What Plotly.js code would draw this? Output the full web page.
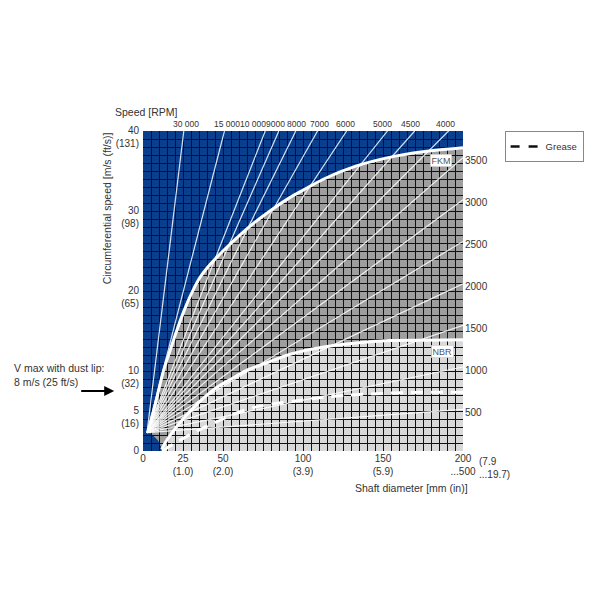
<!DOCTYPE html>
<html>
<head>
<meta charset="utf-8">
<script src="https://cdn.plot.ly/plotly-3.0.1.min.js"></script>
<style>html,body{margin:0;padding:0;background:#fff;}#chart{width:600px;height:600px;}</style>
</head>
<body>
<div id="chart"></div>
<script>
// ---- data ----
const xTickVals = [0, 25, 50, 100, 150, 200];
const xTickText = ['0', '25<br>(1.0)', '50<br>(2.0)', '100<br>(3.9)', '150<br>(5.9)', '200<br>...500'];
const yTickVals = [0, 5, 10, 20, 30, 40];
const yTickText = ['0<br>&nbsp;', '5<br>(16)', '10<br>(32)', '20<br>(65)', '30<br>(98)', '40<br>(131)'];

// speed lines meet near the origin
const hubD = 2.5;
const hubV = 2.3;
// speeds whose lines leave through the top edge (v = 40)
const topRpm = ['30 000', '15 000', '10 000', '9000', '8000', '7000', '6000', '5000', '4500', '4000'];
const topCrossD = [25.5, 50.9, 76.4, 84.9, 95.5, 109.1, 127.3, 152.8, 169.8, 191.0];
// speeds whose lines leave through the right edge (d = 200)
const rightRpm = ['3500', '3000', '2500', '2000', '1500', '1000', '500'];
const rightCrossV = [36.65, 31.4, 26.2, 20.9, 15.7, 10.5, 5.2];

// FKM limit curve
const fkmD = [3, 7.5, 12.5, 17, 21, 25, 29.4, 35, 41.9, 50, 60, 70, 80, 92, 100, 113, 133, 154, 175, 200];
const fkmV = [2.3, 5.7, 9.8, 12.6, 15.0, 17.2, 19.3, 21.5, 23.3, 25.0, 26.9, 28.6, 30.1, 31.7, 32.6, 34.0, 35.6, 36.7, 37.4, 37.9];
// NBR limit curve
const nbrD = [11.7, 15, 25, 35, 45, 56, 65, 77, 92, 113, 133, 154, 175, 200];
const nbrV = [0.2, 1.4, 4.0, 6.1, 7.8, 9.1, 10.1, 11.0, 12.1, 13.0, 13.5, 13.8, 13.85, 13.9];
// Grease (dashed)
const greaseD = [12, 20, 30, 40, 50, 62, 75, 93, 115, 135, 165, 200];
const greaseV = [0, 1.0, 2.1, 3.1, 4.0, 5.0, 5.7, 6.2, 6.75, 7.05, 7.3, 7.35];
// small blue pocket at the origin (boundary of the grey zones)
const pocketD = [12.5, 9.4, 5, 3];
const pocketV = [0, 1.3, 2.2, 2.3];

const xMax = 200, yMax = 40;

// ---- styles ----
const BLUE = '#0a3f8e';
const DARKGREY = '#9e9e9e';
const LIGHTGREY = '#d9d9d9';
const FONT = 'Liberation Sans, Arial, sans-serif';
const TXT = '#333';
const topLabelShift = [2, 2.5, -12, -3, 1, 1.5, -1, -5, -4, -3.5];

function pathFrom(ds, vs) {
  return ds.map((d, i) => (i === 0 ? 'M' : 'L') + d + ',' + vs[i]).join(' ') + ' Z';
}

// dark grey zone: under FKM curve
const dgD = fkmD.concat([xMax, xMax]).concat(pocketD);
const dgV = fkmV.concat([fkmV[fkmV.length - 1], 0]).concat(pocketV);
// light grey zone: under NBR curve
const lgD = nbrD.concat([xMax, xMax, nbrD[0]]);
const lgV = nbrV.concat([nbrV[nbrV.length - 1], 0, 0]);

// speed lines
const slX = [], slY = [];
topCrossD.forEach(d => { slX.push(hubD, d, null); slY.push(hubV, yMax, null); });
rightCrossV.forEach(v => { slX.push(hubD, xMax, null); slY.push(hubV, v, null); });

const traces = [
  {x: slX, y: slY, mode: 'lines', line: {color: 'rgba(255,255,255,0.85)', width: 1.2}, showlegend: false, hoverinfo: 'skip'},
  {x: fkmD, y: fkmV, mode: 'lines', line: {color: '#fff', width: 3, shape: 'spline', smoothing: 0.8}, showlegend: false},
  {x: nbrD, y: nbrV, mode: 'lines', line: {color: '#fff', width: 3, shape: 'spline', smoothing: 0.8}, showlegend: false},
  {x: greaseD, y: greaseV, mode: 'lines', line: {color: '#fff', width: 3, dash: '12px,8px', shape: 'spline'}, showlegend: false},
  {x: [null], y: [null], mode: 'lines', name: 'Grease', line: {color: '#111', width: 2.5, dash: 'dash'}, showlegend: true}
];

const annotations = [];
topRpm.forEach((t, i) => annotations.push({
  x: topCrossD[i], y: yMax, xref: 'x', yref: 'y', text: t, showarrow: false,
  yanchor: 'bottom', xanchor: 'center', xshift: topLabelShift[i], yshift: 0,
  font: {family: FONT, size: 8.5, color: TXT}
}));
rightRpm.forEach((t, i) => annotations.push({
  x: xMax, y: rightCrossV[i], xref: 'x', yref: 'y', text: t, showarrow: false,
  xanchor: 'left', yanchor: 'middle', xshift: 0, yshift: -3,
  font: {family: FONT, size: 10, color: TXT}
}));
annotations.push(
  {x: 186, y: 36.3, xref: 'x', yref: 'y', text: 'FKM', showarrow: false, bgcolor: '#fff',
   xanchor: 'center', yanchor: 'middle',
   bordercolor: '#bbb', borderwidth: 0.5, borderpad: 1, font: {family: FONT, size: 9, color: '#555'}},
  {x: 187, y: 12.4, xref: 'x', yref: 'y', text: 'NBR', showarrow: false, bgcolor: '#fff',
   xanchor: 'center', yanchor: 'middle',
   bordercolor: '#bbb', borderwidth: 0.5, borderpad: 1, font: {family: FONT, size: 9, color: '#555'}},
  {x: 1.0, y: 0, xref: 'paper', yref: 'paper', text: '(7.9<br>...19.7)', showarrow: false,
   xanchor: 'left', yanchor: 'top', align: 'left', xshift: 14, yshift: -3, font: {family: FONT, size: 10, color: TXT}},
  {x: 0.8375, y: -0.116, xref: 'paper', yref: 'paper', text: 'Shaft diameter [mm (in)]', showarrow: false,
   xanchor: 'center', yanchor: 'middle', font: {family: FONT, size: 10.5, color: TXT}},
  {x: 0.01, y: 1.059, xref: 'paper', yref: 'paper', text: 'Speed [RPM]', showarrow: false,
   xanchor: 'center', yanchor: 'middle', font: {family: FONT, size: 10.5, color: TXT}},
  {x: -0.112, y: 0.759, xref: 'paper', yref: 'paper', text: 'Circumferential speed [m/s (ft/s)]', showarrow: false,
   xanchor: 'center', yanchor: 'middle', textangle: -90, font: {family: FONT, size: 10.5, color: TXT}},
  {x: -0.41, y: 0.2375, xref: 'paper', yref: 'paper', text: 'V max with dust lip:<br>8 m/s (25 ft/s)', showarrow: false,
   xanchor: 'left', yanchor: 'middle', align: 'left', font: {family: FONT, size: 10.5, color: TXT}},
  {x: -0.09, y: 0.1875, xref: 'paper', yref: 'paper', text: ' ', showarrow: true, ax: -36, ay: 0,
   arrowhead: 2, arrowsize: 1, arrowwidth: 2, arrowcolor: '#000'}
);

const shapes = [
  {type: 'path', xref: 'x', yref: 'y', path: pathFrom(dgD, dgV), fillcolor: DARKGREY, line: {width: 0}, layer: 'below'},
  {type: 'path', xref: 'x', yref: 'y', path: pathFrom(lgD, lgV), fillcolor: LIGHTGREY, line: {width: 0}, layer: 'below'}
];

const layout = {
  width: 600, height: 600,
  margin: {l: 143, r: 137, t: 131, b: 149},
  paper_bgcolor: '#fff', plot_bgcolor: BLUE,
  font: {family: FONT, size: 10, color: TXT},
  xaxis: {range: [0, xMax], tickvals: xTickVals, ticktext: xTickText, showgrid: true,
    gridcolor: '#111', gridwidth: 1, zeroline: false, ticks: '', showline: false,
    minor: {dtick: 5, showgrid: true, gridcolor: '#111', gridwidth: 1},
    tickfont: {family: FONT, size: 10, color: TXT}, fixedrange: true},
  yaxis: {range: [0, yMax], tickvals: yTickVals, ticktext: yTickText, showgrid: true,
    gridcolor: '#111', gridwidth: 1, zeroline: false, ticks: '', showline: false,
    minor: {dtick: 1, showgrid: true, gridcolor: '#111', gridwidth: 1},
    ticklabelshift: 6, ticklabelstandoff: 3,
    tickfont: {family: FONT, size: 10, color: TXT}, fixedrange: true},
  showlegend: true,
  legend: {x: 1.13, y: 1.0, xanchor: 'left', yanchor: 'top', bordercolor: '#888', borderwidth: 1,
    bgcolor: '#fff', font: {family: FONT, size: 9.5, color: TXT}, itemwidth: 30},
  shapes: shapes,
  annotations: annotations
};

Plotly.newPlot('chart', traces, layout, {displayModeBar: false, staticPlot: true});
</script>
</body>
</html>
